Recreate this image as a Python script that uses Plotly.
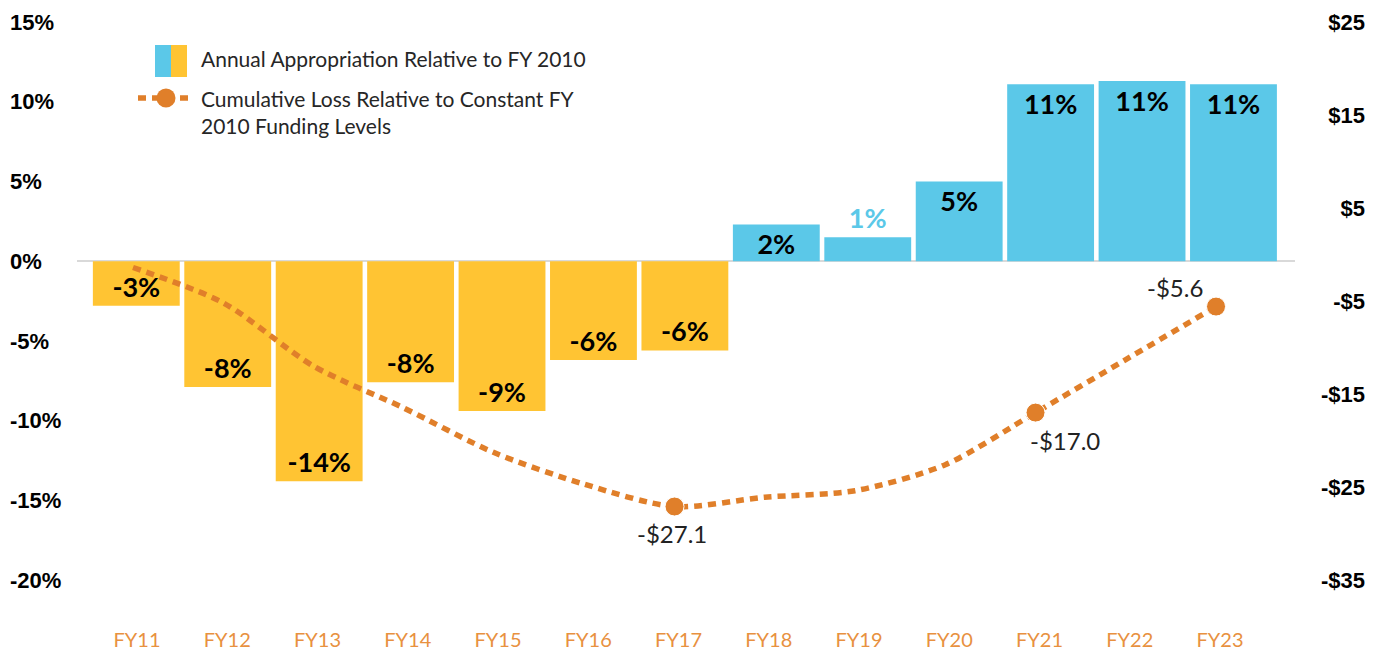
import plotly.graph_objects as go

# data
categories = ["FY11", "FY12", "FY13", "FY14", "FY15", "FY16", "FY17",
              "FY18", "FY19", "FY20", "FY21", "FY22", "FY23"]
annual_pct = [-2.8, -7.9, -13.8, -7.6, -9.4, -6.2, -5.6,
              2.3, 1.5, 5.0, 11.1, 11.3, 11.1]
bar_labels = ["-3%", "-8%", "-14%", "-8%", "-9%", "-6%", "-6%",
              "2%", "1%", "5%", "11%", "11%", "11%"]
cumulative_loss = [-1.4, -5.2, -12.0, -16.5, -21.3, -24.7, -27.1,
                   -26.1, -25.4, -22.6, -17.0, -11.3, -5.6]
marked = [6, 10, 12]

left_ticks = [-20, -15, -10, -5, 0, 5, 10, 15]
left_text = ["-20%", "-15%", "-10%", "-5%", "0%", "5%", "10%", "15%"]
right_ticks = [-35, -25, -15, -5, 5, 15, 25]
right_text = ["-$35", "-$25", "-$15", "-$5", "$5", "$15", "$25"]

BLUE = "#5BC8E8"
YELLOW = "#FFC433"
ORANGE = "#E07F2A"
LABEL_ORANGE = "#E8913F"

# page body has an 8px margin, so the figure is a bit smaller than the window
OFF = 8
W, H = 1376, 644
ML, MR, MT, MB = 1, 19, 14, 72
PW = W - ML - MR
PH = H - MT - MB


def px(x):
    # window pixel -> paper fraction
    return (x - OFF - ML) / PW


def py(y):
    return (H - MB - (y - OFF)) / PH


bar_colors = [BLUE if v > 0 else YELLOW for v in annual_pct]
text_pos = ["outside" if abs(v) < 2 else "inside" for v in annual_pct]
text_col = [BLUE if p == "outside" else "black" for p in text_pos]

fig = go.Figure()

fig.add_trace(go.Bar(
    x=categories, y=annual_pct, xaxis="x", yaxis="y",
    marker=dict(color=bar_colors, line=dict(width=0)),
    text=bar_labels, textposition=text_pos, insidetextanchor="end",
    textangle=0, constraintext="none", cliponaxis=False,
    textfont=dict(family="Lato", size=27, weight="bold", color=text_col),
    showlegend=False, hoverinfo="skip",
))

msize = [19 if i in marked else 0 for i in range(len(categories))]

fig.add_trace(go.Scatter(
    x=categories, y=cumulative_loss, xaxis="x2", yaxis="y2",
    mode="lines+markers",
    line=dict(color=ORANGE, width=5.5, dash="8px,6px", shape="spline", smoothing=0.8),
    marker=dict(size=msize, color=ORANGE, opacity=1),
    cliponaxis=False, showlegend=False, hoverinfo="skip",
))

# value labels for the marked points, offsets in pixels
label_shift = {6: (-3, -27), 10: (29, -28), 12: (-41, 19)}
annotations = []
for i in marked:
    dx, dy = label_shift[i]
    annotations.append(dict(
        xref="x2", yref="y2", x=categories[i], y=cumulative_loss[i],
        text="-${:.1f}".format(abs(cumulative_loss[i])), showarrow=False,
        xshift=dx, yshift=dy,
        font=dict(family="Lato", size=24, color="#222222")))

dom = [px(77), px(1295)]

# hand drawn legend (split blue / yellow swatch)
shapes = [
    dict(type="rect", xref="paper", yref="paper", x0=px(155), x1=px(171),
         y0=py(77), y1=py(45), fillcolor=BLUE, line=dict(width=0)),
    dict(type="rect", xref="paper", yref="paper", x0=px(171), x1=px(187),
         y0=py(77), y1=py(45), fillcolor=YELLOW, line=dict(width=0)),
    dict(type="line", xref="paper", yref="paper", x0=px(138), x1=px(191),
         y0=py(98), y1=py(98), line=dict(color=ORANGE, width=5.5, dash="8px,6px")),
    dict(type="circle", xref="paper", yref="paper", x0=px(156.5), x1=px(175.5),
         y0=py(107.5), y1=py(88.5), fillcolor=ORANGE, line=dict(width=0)),
]
annotations += [
    dict(xref="paper", yref="paper", x=px(199), y=py(58), xanchor="left",
         yanchor="middle", showarrow=False, align="left",
         text="Annual Appropriation Relative to FY 2010",
         font=dict(family="Lato", size=21, color="#262626")),
    dict(xref="paper", yref="paper", x=px(199), y=py(112), xanchor="left",
         yanchor="middle", showarrow=False, align="left",
         text="Cumulative Loss Relative to Constant FY<br>2010 Funding Levels",
         font=dict(family="Lato", size=21, color="#262626")),
]

fig.update_layout(
    width=W, height=H,
    margin=dict(l=ML, r=MR, t=MT, b=MB, autoexpand=False),
    paper_bgcolor="white", plot_bgcolor="white",
    bargap=0.05,
    shapes=shapes, annotations=annotations,
    xaxis=dict(type="category", categoryarray=categories, domain=dom,
               range=[-0.6486, 12.673], anchor="y", showticklabels=False,
               showgrid=False, zeroline=False, showline=False, ticks="",
               automargin=False),
    xaxis2=dict(type="category", categoryarray=categories, overlaying="x",
                range=[-0.6205, 12.875], anchor="y", side="bottom",
                showgrid=False, zeroline=False, showline=False, ticks="",
                ticklabelstandoff=46, ticklabelshift=4, automargin=False,
                tickfont=dict(family="Lato", size=20, color=LABEL_ORANGE)),
    yaxis=dict(range=[-20, 15], anchor="free", position=0, side="right",
               tickvals=left_ticks, ticktext=left_text, ticks="",
               showgrid=False, showline=False, automargin=False,
               zeroline=True, zerolinecolor="#D9D9D9", zerolinewidth=2,
               tickfont=dict(family="Liberation Sans", size=22, weight="bold", color="black")),
    yaxis2=dict(range=[-35, 25], overlaying="y", anchor="free", position=1, side="left",
                tickvals=right_ticks, ticktext=right_text, ticks="",
                showgrid=False, showline=False, zeroline=False, automargin=False,
                tickfont=dict(family="Liberation Sans", size=22, weight="bold", color="black")),
)

fig.write_html("out.html")
